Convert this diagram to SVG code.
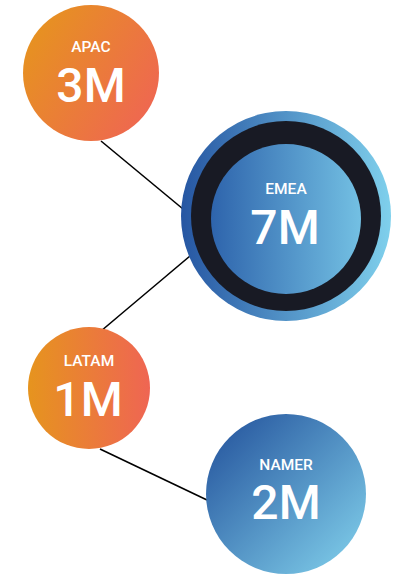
<svg xmlns="http://www.w3.org/2000/svg" width="394" height="574" viewBox="0 0 394 574">
<defs>
<linearGradient id="orA" x1="0" y1="0.2" x2="1" y2="0.8"><stop offset="0" stop-color="#E6941E"/><stop offset="1" stop-color="#EF6553"/></linearGradient>
<linearGradient id="orL" x1="0" y1="0" x2="1" y2="0"><stop offset="0" stop-color="#E6941E"/><stop offset="1" stop-color="#EF6553"/></linearGradient>
<linearGradient id="blO" x1="0" y1="0" x2="1" y2="0"><stop offset="0" stop-color="#2656A2"/><stop offset="1" stop-color="#7FD0EC"/></linearGradient>
<linearGradient id="blI" x1="0" y1="0" x2="1" y2="0"><stop offset="0" stop-color="#2E64AC"/><stop offset="1" stop-color="#73C0E3"/></linearGradient>
<linearGradient id="blN" x1="0" y1="0" x2="1" y2="1"><stop offset="0" stop-color="#204E99"/><stop offset="1" stop-color="#84D4EE"/></linearGradient>
</defs>
<style>
.lbl{font-family:Roboto,"Liberation Sans",sans-serif;font-weight:500;font-size:15.5px;fill:#fff;text-anchor:middle}
.val{font-family:Roboto,"Liberation Sans",sans-serif;font-weight:500;font-size:48px;fill:#fff;text-anchor:middle}
.ln{stroke:#000;stroke-width:1.6;fill:none}
</style>
<g id="connectors">
<line class="ln" x1="101" y1="141" x2="183" y2="209"/>
<line class="ln" x1="101" y1="331" x2="190" y2="256"/>
<line class="ln" x1="100" y1="449" x2="207" y2="500"/>
</g>
<g id="apac">
<circle cx="91" cy="73" r="68" fill="url(#orA)"/>
<text class="lbl" x="91" y="52">APAC</text>
<text class="val" x="91" y="102">3M</text>
</g>
<g id="emea">
<circle cx="286" cy="216" r="105" fill="url(#blO)"/>
<circle cx="286" cy="216" r="95" fill="#181A24"/>
<circle cx="286" cy="219" r="75" fill="url(#blI)"/>
<text class="lbl" x="286" y="194">EMEA</text>
<text class="val" x="285" y="244">7M</text>
</g>
<g id="latam">
<circle cx="89" cy="388" r="61" fill="url(#orL)"/>
<text class="lbl" x="89" y="366">LATAM</text>
<text class="val" x="88" y="416">1M</text>
</g>
<g id="namer">
<circle cx="286" cy="494" r="80" fill="url(#blN)"/>
<text class="lbl" x="286" y="470">NAMER</text>
<text class="val" x="286" y="519">2M</text>
</g>
</svg>
